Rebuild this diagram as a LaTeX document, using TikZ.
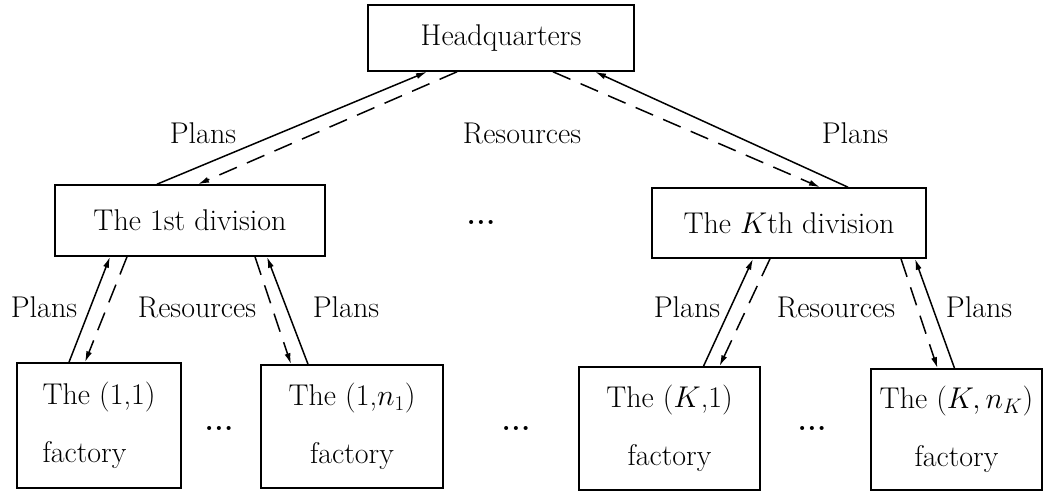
\RequirePackage{fix-cm}
\documentclass[tikz,border=0pt]{standalone}
\usetikzlibrary{arrows.meta}
\begin{document}
\begin{tikzpicture}[x=1pt,y=-1pt,
  box/.style={draw,line width=1.6pt,inner sep=0pt,minimum width=#1},
  lbl/.style={font=\fontsize{30}{36}\selectfont,inner sep=0pt},
  fac/.style={draw,line width=1.6pt,inner sep=0pt,align=center,font=\fontsize{30}{58}\selectfont},
  plan/.style={line width=1.5pt,-{Latex[length=11pt,width=6pt]}},
  res/.style={line width=1.5pt,dash pattern=on 19pt off 11pt,-{Latex[length=11pt,width=6pt]}},
  dots/.style={font=\fontsize{28}{32}\selectfont\bfseries,inner sep=0pt}]
\useasboundingbox (0,0) rectangle (1048,492);
% boxes
\node[box=266pt,minimum height=66pt,font=\fontsize{30}{36}\selectfont] (hq) at (501,38) {Headquarters};
\node[box=270pt,minimum height=71pt,font=\fontsize{30}{36}\selectfont] (d1) at (190,220.5) {The 1st division};
\node[box=274pt,minimum height=70pt,font=\fontsize{30}{36}\selectfont] (dk) at (789,223) {The $K$th division};
\node[fac,align=left,minimum width=164pt,minimum height=125pt] (f11) at (99,425.5) {The (1,1)\\factory};
\node[fac,minimum width=182pt,minimum height=123pt] (f1n) at (352,426.5) {The (1,$n_1$)\\factory};
\node[fac,minimum width=181pt,minimum height=123pt] (fk1) at (669.5,428.5) {The $(K$,1)\\factory};
\node[fac,minimum width=171pt,minimum height=121pt] (fkn) at (956.5,429.5) {The $(K,n_K)$\\factory};
% labels
\node[lbl] (l1) at (203,133) {Plans};
\node[lbl] (l2) at (522,133) {Resources};
\node[lbl] (l3) at (855,133) {Plans};
\node[lbl] (l4) at (44,307) {Plans};
\node[lbl] (l5) at (197,307) {Resources};
\node[lbl] (l6) at (346,307) {Plans};
\node[lbl] (l7) at (687,307) {Plans};
\node[lbl] (l8) at (836,307) {Resources};
\node[lbl] (l9) at (979,307) {Plans};
% dots
\node[dots] (dd) at (481,222) {.\hspace{1pt}.\hspace{1pt}.};
\node[dots] (da) at (219,428) {.\hspace{1pt}.\hspace{1pt}.};
\node[dots] (db) at (516,428) {.\hspace{1pt}.\hspace{1pt}.};
\node[dots] (dc) at (812,428) {.\hspace{1pt}.\hspace{1pt}.};
% connectors HQ level
\draw[plan] ([xshift=-33pt]d1.north) -- ([xshift=-74pt]hq.south);
\draw[res] ([xshift=-44pt]hq.south) -- ([xshift=8pt]d1.north);
\draw[res] ([xshift=52pt]hq.south) -- ([xshift=31pt]dk.north);
\draw[plan] ([xshift=59pt]dk.north) -- ([xshift=94pt]hq.south);
% division 1
\draw[plan] ([xshift=-30pt]f11.north) -- ([xshift=-80pt]d1.south);
\draw[res] ([xshift=-63pt]d1.south) -- ([xshift=-14pt]f11.north);
\draw[res] ([xshift=65pt]d1.south) -- ([xshift=-61pt]f1n.north);
\draw[plan] ([xshift=-44pt]f1n.north) -- ([xshift=77pt]d1.south);
% division K
\draw[plan] ([xshift=34pt]fk1.north) -- ([xshift=-36pt]dk.south);
\draw[res] ([xshift=-19pt]dk.south) -- ([xshift=50pt]fk1.north);
\draw[res] ([xshift=112pt]dk.south) -- ([xshift=-19pt]fkn.north);
\draw[plan] ([xshift=-2pt]fkn.north) -- ([xshift=126pt]dk.south);
\end{tikzpicture}
\end{document}
